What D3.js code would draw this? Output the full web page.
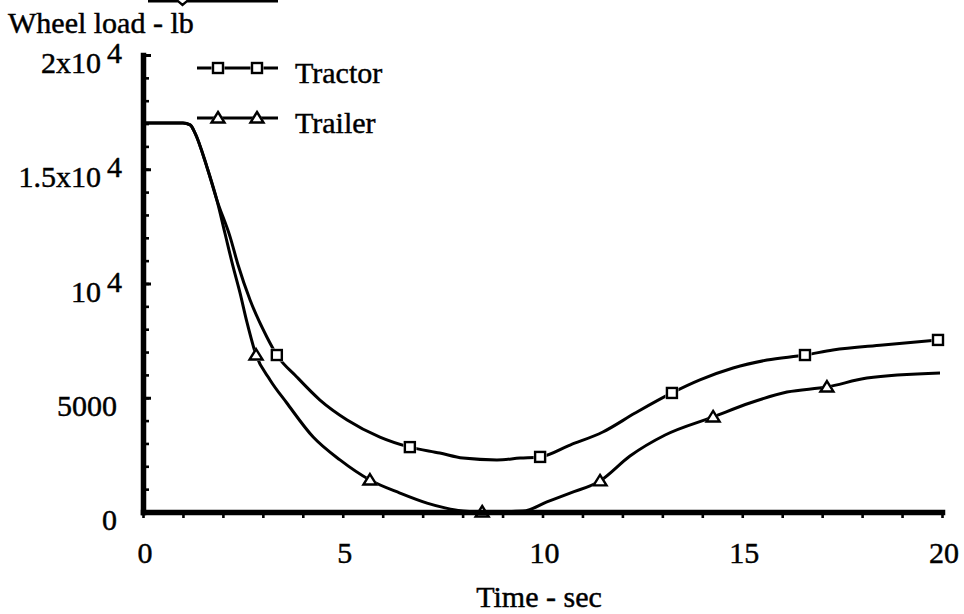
<!DOCTYPE html>
<html>
<head>
<meta charset="utf-8">
<script src="https://cdn.jsdelivr.net/npm/d3@7/dist/d3.min.js"></script>
<style>
  html, body { margin: 0; padding: 0; background: #fff; }
  svg { display: block; }
</style>
</head>
<body>
<script>
// Wheel load history of tractor and trailer axles (lb) over time (sec)
const tractorTime = [0, 1.0, 1.18, 1.30, 1.60, 1.85, 2.18, 2.38, 2.68, 3.10, 3.35, 3.85, 4.43, 5.11, 5.93, 6.68, 7.43, 8.01, 8.86, 9.44, 9.94, 10.69, 11.51, 12.32, 13.24, 13.94, 14.77, 15.62, 16.57, 17.27, 18.52, 19.90];
const tractorLoad = [17020, 17020, 16940, 16590, 15100, 13650, 12040, 10810, 9280, 7660, 6870, 5910, 4900, 4030, 3280, 2840, 2580, 2360, 2280, 2360, 2410, 2930, 3500, 4330, 5210, 5780, 6300, 6650, 6870, 7090, 7310, 7530];
const tractorMarkerTimes = [3.35, 6.68, 9.94, 13.24, 16.57, 19.90];

const trailerTime = [0, 1.0, 1.18, 1.30, 1.60, 1.85, 2.05, 2.25, 2.43, 2.60, 2.83, 3.18, 3.60, 4.26, 4.93, 5.68, 6.43, 7.11, 7.56, 8.01, 8.49, 9.51, 10.11, 10.69, 11.44, 12.19, 13.07, 14.27, 15.19, 16.12, 17.12, 18.12, 19.95];
const trailerLoad = [17020, 17020, 16940, 16590, 15100, 13650, 12210, 10770, 9580, 8320, 6870, 5780, 4770, 3280, 2280, 1400, 830, 390, 180, 40, 0, 40, 440, 830, 1360, 2450, 3370, 4160, 4770, 5250, 5470, 5860, 6080];
const trailerMarkerTimes = [2.83, 5.68, 8.49, 11.44, 14.27, 17.12];

const seriesNames = ["Tractor", "Trailer"];

const xTickValues = [0, 5, 10, 15, 20];
const xTickLabels = ["0", "5", "10", "15", "20"];
const yTickValues = [0, 5000, 10000, 15000, 20000];
const yTickBase = ["0", "5000", "10", "1.5x10", "2x10"];
const yTickExp = ["", "", "4", "4", "4"];

const xTitle = "Time - sec";
const yTitle = "Wheel load - lb";

const FONT = "'Liberation Serif', Tinos, 'Times New Roman', serif";
const W = 964, H = 614;
const svg = d3.select("body").append("svg").attr("width", W).attr("height", H);

const x = d3.scaleLinear().domain([0, 20]).range([143, 942]);
const y = d3.scaleLinear().domain([0, 20000]).range([512, 55]);

const toPoints = (ts, vs) => ts.map((t, i) => ({ t, v: vs[i] }));
const tractor = toPoints(tractorTime, tractorLoad);
const trailer = toPoints(trailerTime, trailerLoad);

// clipped rule left over at the very top edge
svg.append("path")
  .attr("d", "M148,1.2 L178,1.2 L182.5,5 L187,1.2 L278,1.2")
  .attr("fill", "none").attr("stroke", "#000").attr("stroke-width", 2.4);

const line = d3.line().x(d => x(d.t)).y(d => y(d.v)).curve(d3.curveMonotoneX);

const plot = svg.append("g");
[tractor, trailer].forEach(data => {
  plot.append("path").datum(data)
    .attr("d", line)
    .attr("fill", "none")
    .attr("stroke", "#000")
    .attr("stroke-width", 3)
    .attr("stroke-linejoin", "round");
});

function square(g, cx, cy) {
  g.append("rect").attr("x", cx - 6.5).attr("y", cy - 6.5).attr("width", 13).attr("height", 13)
    .attr("fill", "#fff");
  g.append("rect").attr("x", cx - 5).attr("y", cy - 5).attr("width", 10).attr("height", 10)
    .attr("fill", "#fff").attr("stroke", "#000").attr("stroke-width", 2.4);
}
function triangle(g, cx, cy) {
  g.append("path")
    .attr("d", `M${cx},${cy - 8} L${cx + 8.5},${cy + 6} L${cx - 8.5},${cy + 6} Z`)
    .attr("fill", "#fff");
  g.append("path")
    .attr("d", `M${cx},${cy - 6} L${cx + 6.5},${cy + 4.5} L${cx - 6.5},${cy + 4.5} Z`)
    .attr("fill", "#fff").attr("stroke", "#000").attr("stroke-width", 2.4)
    .attr("stroke-linejoin", "miter");
}

const markers = svg.append("g");
tractorMarkerTimes.forEach(t => {
  const p = tractor.find(d => d.t === t);
  square(markers, x(p.t), y(p.v));
});
trailerMarkerTimes.forEach(t => {
  const p = trailer.find(d => d.t === t);
  triangle(markers, x(p.t), y(p.v));
});

// axes
const yMinor = svg.append("g").attr("transform", `translate(${x(0)},0)`)
  .call(d3.axisRight(y).tickValues(d3.range(0, 20001, 1000)).tickSize(6).tickSizeOuter(0).tickFormat(""));
const xMinor = svg.append("g").attr("transform", `translate(0,${y(0)})`)
  .call(d3.axisBottom(x).tickValues(d3.range(0, 21, 1)).tickSize(6).tickSizeOuter(0).tickFormat(""));
[yMinor, xMinor].forEach(g => {
  g.selectAll(".tick line").attr("stroke", "#000").attr("stroke-width", 2.6);
  g.select(".domain").attr("stroke", "#000").attr("stroke-width", 5.5).attr("stroke-linecap", "square");
});
svg.append("g").attr("transform", `translate(${x(0)},0)`)
  .call(d3.axisRight(y).tickValues(yTickValues).tickSize(8).tickSizeOuter(0).tickFormat(""))
  .call(g => g.select(".domain").remove())
  .selectAll(".tick line").attr("stroke", "#000").attr("stroke-width", 3);

// text helper
const fs = 30;
function label(xp, yp, str, anchor) {
  return svg.append("text")
    .attr("x", xp).attr("y", yp)
    .attr("text-anchor", anchor || "start")
    .style("font-family", FONT)
    .attr("font-size", fs)
    .attr("fill", "#000")
    .attr("stroke", "#000")
    .attr("stroke-width", 0.45)
    .text(str);
}

// tick labels
yTickValues.forEach((v, i) => {
  const by = y(v) + 18;
  if (yTickExp[i]) {
    label(101, by, yTickBase[i], "end");
    label(107, by - 10, yTickExp[i], "start");
  } else {
    label(117, by, yTickBase[i], "end");
  }
});
xTickValues.forEach((v, i) => label(x(v) + 2, 563, xTickLabels[i], "middle"));

// titles
label(8, 33, yTitle);
label(539, 607, xTitle, "middle");

// legend
const legend = svg.append("g");
const legendRows = [68, 118];
seriesNames.forEach((name, i) => {
  const ly = legendRows[i];
  legend.append("line").attr("x1", 197).attr("x2", 278).attr("y1", ly).attr("y2", ly)
    .attr("stroke", "#000").attr("stroke-width", 2.8);
  [218, 257].forEach(mx => (i === 0 ? square : triangle)(legend, mx, ly));
  label(295, ly + 15, name);
});
</script>
</body>
</html>
